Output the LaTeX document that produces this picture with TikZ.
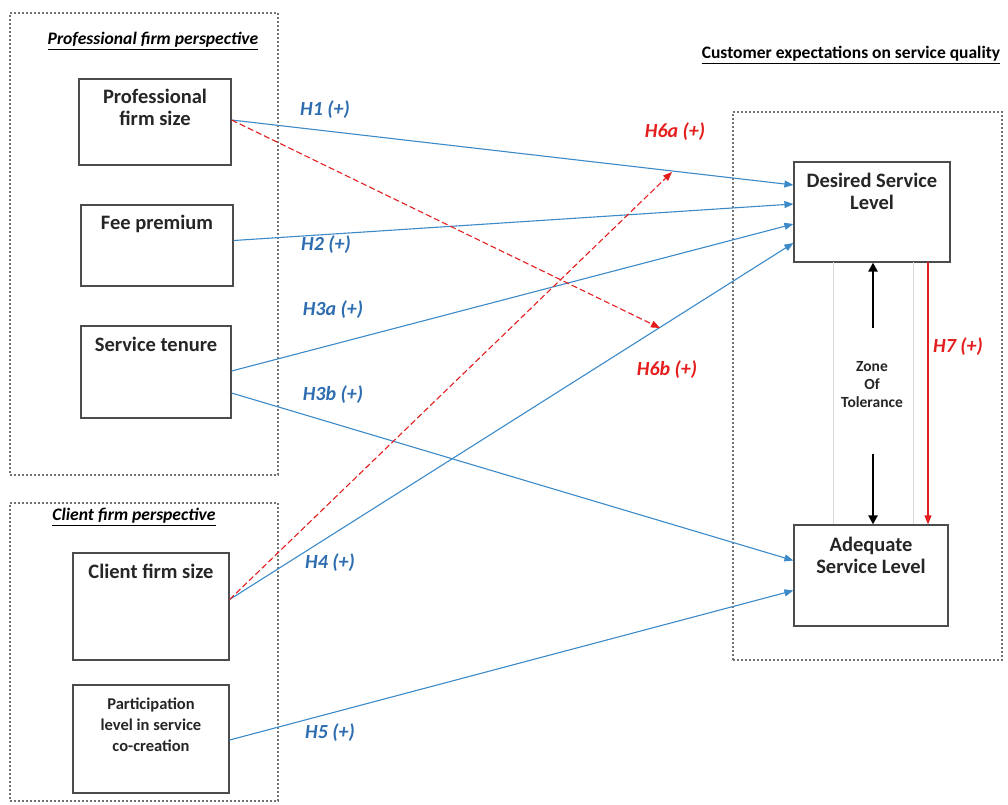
\documentclass[tikz,border=0pt]{standalone}
\usepackage{fontspec}
\setmainfont{Carlito}
\usetikzlibrary{arrows.meta,calc}
\definecolor{lineblue}{HTML}{3C8AC8}
\definecolor{txtblue}{HTML}{2E6DB0}
\definecolor{hred}{HTML}{E41E1E}
\begin{document}
\begin{tikzpicture}[x=1pt,y=-1pt,
  grp/.style={draw=black!55, dash pattern=on 2pt off 2pt, line width=1.1pt, rectangle, inner sep=0pt},
  box/.style={draw=black!70, line width=1.2pt, rectangle, inner sep=0pt},
  btxt/.style={font=\fontsize{20.5}{22}\selectfont\bfseries, align=center, anchor=north, inner sep=0pt, text=black!85},
  stxt/.style={font=\fontsize{16.5}{21}\selectfont\bfseries, align=center, anchor=north, inner sep=0pt, text=black!85},
  ttl/.style={font=\fontsize{17.6}{20}\selectfont\bfseries\itshape, inner sep=0pt},
  ttlr/.style={font=\fontsize{17.5}{20}\selectfont\bfseries, inner sep=0pt},
  hypb/.style={font=\fontsize{20}{22}\selectfont\bfseries\itshape, text=txtblue, inner sep=0pt},
  hypr/.style={font=\fontsize{20}{22}\selectfont\bfseries\itshape, text=hred, inner sep=0pt},
  barrow/.style={draw=lineblue, line width=1.1pt, -{Triangle[length=9pt,width=7pt]}},
  rarrow/.style={draw=hred, line width=1.1pt, dash pattern=on 6pt off 3pt, -{Triangle[length=9pt,width=7pt]}},
  karrow/.style={draw=black, line width=2.8pt, -{Triangle[length=9pt,width=9pt]}},
  zone/.style={draw=black!15, line width=0.8pt}
]
\useasboundingbox (0,0) rectangle (1008,804);

% group frames
\node[grp, minimum width=268, minimum height=462] (pgrp) at (144,244) {};
\node[grp, minimum width=268, minimum height=298] (cgrp) at (144,652) {};
\node[grp, minimum width=269, minimum height=548] (qgrp) at (867.5,386) {};

% titles
\node[ttl] (pt) at (153,41) {\underline{Professional firm perspective}};
\node[ttl] (ct) at (134,517) {\underline{Client firm perspective}};
\node[ttlr] (qt) at (851,55) {\underline{Customer expectations on service quality}};

% left boxes
\node[box, minimum width=152, minimum height=86] (pfs) at (155,122) {};
\node[btxt] (pfst) at ($(pfs.north)+(0,11)$) {Professional\\firm size};
\node[box, minimum width=152, minimum height=81] (fp) at (157,245.5) {};
\node[btxt] (fpt) at ($(fp.north)+(0,11)$) {Fee premium};
\node[box, minimum width=150, minimum height=92] (st) at (156,372) {};
\node[btxt] (stt) at ($(st.north)+(0,12)$) {Service tenure};
\node[box, minimum width=156, minimum height=107] (cfs) at (151,606.5) {};
\node[btxt] (cfst) at ($(cfs.north)+(0,11)$) {Client firm size};
\node[box, minimum width=156, minimum height=108] (plc) at (151,739) {};
\node[stxt] (plct) at ($(plc.north)+(0,13)$) {Participation\\level in service\\co-creation};

% right boxes
\node[box, minimum width=156, minimum height=100] (dsl) at (872,212) {};
\node[btxt] (dslt) at ($(dsl.north)+(0,12)$) {Desired Service\\Level};
\node[box, minimum width=154, minimum height=101] (asl) at (871,575.5) {};
\node[btxt] (aslt) at ($(asl.north)+(0,13)$) {Adequate\\Service Level};

% zone of tolerance
\coordinate (zl) at (833,262);
\coordinate (zr) at (913,262);
\draw[zone] (zl) -- (zl |- asl.north);
\draw[zone] (zr) -- (zr |- asl.north);
\node[font=\fontsize{15.5}{18}\selectfont\bfseries, align=center, text=black!85] (zot) at (872,385) {Zone\\Of\\Tolerance};
\coordinate (zu) at (873,328);
\coordinate (zd) at (873,454);
\draw[karrow] (zu) -- (zu |- dsl.south);
\draw[karrow] (zd) -- (zd |- asl.north);

% H7
\coordinate (h7s) at (928,262);
\draw[draw=hred, line width=1.1pt, -{Triangle[length=9pt,width=7pt]}] (h7s) -- (h7s |- asl.north);
\node[hypr] (h7) at (958,347) {H7 (+)};

% blue arrows
\draw[barrow] ($(pfs.east)+(0,-2)$) -- ($(dsl.west)+(0,-27)$);
\draw[barrow] ($(fp.east)+(0,-5)$) -- ($(dsl.west)+(0,-8)$);
\draw[barrow] ($(st.east)+(0,-1)$) -- ($(dsl.west)+(0,12)$);
\draw[barrow] ($(st.east)+(0,21)$) -- ($(asl.west)+(0,-15)$);
\draw[barrow] ($(cfs.east)+(0,-7)$) -- ($(dsl.west)+(0,31)$);
\draw[barrow] ($(plc.east)+(0,1)$) -- ($(asl.west)+(0,15)$);

% red dashed arrows
\coordinate (h6ae) at (672,172);
\coordinate (h6be) at (660,328);
\draw[rarrow] ($(cfs.east)+(0,-7)$) -- (h6ae);
\draw[rarrow] ($(pfs.east)+(0,-2)$) -- (h6be);

% hypothesis labels
\node[hypb] (h1) at (325,110) {H1 (+)};
\node[hypb] (h2) at (326,245) {H2 (+)};
\node[hypb] (h3a) at (333,310) {H3a (+)};
\node[hypb] (h3b) at (333,395) {H3b (+)};
\node[hypb] (h4) at (330,563) {H4 (+)};
\node[hypb] (h5) at (330,733) {H5 (+)};
\node[hypr] (h6a) at (675,132) {H6a (+)};
\node[hypr] (h6b) at (667,370) {H6b (+)};
\end{tikzpicture}
\end{document}
